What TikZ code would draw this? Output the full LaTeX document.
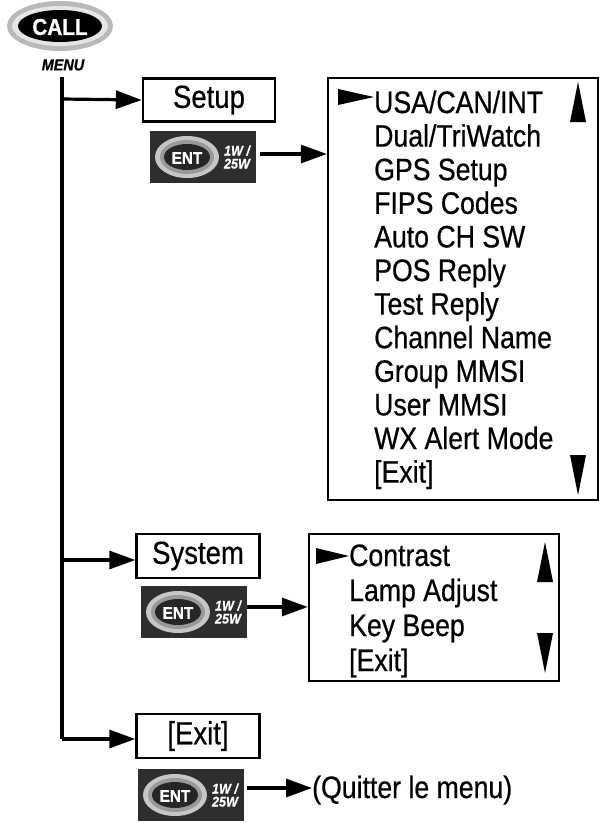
\documentclass[tikz,border=0pt]{standalone}
\usepackage{fontspec}
\setmainfont{Liberation Sans}[FakeStretch=0.86,FakeBold=0.6]
\newfontfamily\btnfont{Liberation Sans}[FakeStretch=0.9,FakeBold=0.8]
\usetikzlibrary{arrows.meta}
\begin{document}
\begin{tikzpicture}[x=1pt,y=-1pt,
  arr/.style={line width=3.2pt,-{Triangle[length=26pt,width=18pt]}},
  box/.style={draw,line width=2.4pt,inner sep=0pt},
  txt/.style={font=\fontsize{31}{31}\selectfont,anchor=base west,inner sep=0pt},
  lbl/.style={font=\fontsize{32}{32}\selectfont,inner sep=0pt},
  tri/.style={fill=black},
  ptr/.style={fill=black}]
\useasboundingbox (0,0) rectangle (601,823);
% CALL button
\fill[gray!55] (60,26) ellipse[x radius=53,y radius=25];
\fill[gray!20] (60,26) ellipse[x radius=48,y radius=20];
\fill[black] (60,26) ellipse[x radius=42,y radius=16];
\node[text=white,font=\btnfont\bfseries\fontsize{23}{23}\selectfont] (call) at (60,27) {CALL};
\node[font=\btnfont\bfseries\itshape\fontsize{16}{16}\selectfont] (menu) at (63,65) {MENU};
\coordinate (top) at (62,77);
\coordinate (bot) at (62,739);
\coordinate (j1) at (62,99);
\coordinate (j2) at (62,560);
\draw[line width=3.2pt] (top) -- (bot);
\tikzset{ent/.pic={
  \fill[black!82] (0,0) rectangle (106,52);
  \fill[gray!45] (37,26) ellipse[x radius=32,y radius=21];
  \fill[gray!80] (37,26) ellipse[x radius=27,y radius=17];
  \fill[black!85] (37,26) ellipse[x radius=23,y radius=13];
  \node[text=white,font=\btnfont\bfseries\fontsize{17}{17}\selectfont] at (37,27) {ENT};
  \node[text=white,font=\btnfont\bfseries\itshape\fontsize{14}{13}\selectfont,align=center] at (87,26) {1W /\\25W};
}}
% Setup
\node[box,minimum width=132,minimum height=43,lbl] (setup) at (209,100) {Setup};
\draw[arr] (j1) -- (setup.west);
\pic at (150,131) {ent};
\coordinate (e1) at (260,154);
\node[box,minimum width=270,minimum height=422] (list1) at (463,289) {};
\draw[arr] (e1) -- (list1.west |- e1);
\fill[ptr] (338,89) -- (374,97) -- (338,105) -- cycle;
\foreach \t [count=\i from 0] in {USA/CAN/INT,Dual/TriWatch,GPS Setup,FIPS Codes,Auto CH SW,POS Reply,Test Reply,Channel Name,Group MMSI,User MMSI,WX Alert Mode,{[Exit]}}
  \node[txt] (l1\i) at (374,113+33.6*\i) {\t};
\fill[tri] (570,122) -- (578,82) -- (586,122) -- cycle;
\fill[tri] (570,455) -- (578,495) -- (586,455) -- cycle;
% System
\node[box,minimum width=123,minimum height=44,lbl] (system) at (198,556) {System};
\draw[arr] (j2) -- (system.west |- j2);
\pic at (141,586) {ent};
\coordinate (e2) at (247,607);
\node[box,minimum width=250,minimum height=147] (list2) at (434,607.5) {};
\draw[arr] (e2) -- (list2.west |- e2);
\fill[ptr] (316,548) -- (349,556) -- (316,564) -- cycle;
\foreach \t [count=\i from 0] in {Contrast,Lamp Adjust,Key Beep,{[Exit]}}
  \node[txt] (l2\i) at (349,566+35*\i) {\t};
\fill[tri] (537,582) -- (545,542) -- (553,582) -- cycle;
\fill[tri] (537,633) -- (545,673) -- (553,633) -- cycle;
% Exit
\node[box,minimum width=123,minimum height=44,lbl] (exit) at (198,736) {[Exit]};
\draw[arr] (bot) -- (exit.west |- bot);
\pic at (138,769) {ent};
\coordinate (e3) at (247,788);
\node[txt,anchor=west] (quit) at (312,790) {(Quitter le menu)};
\draw[arr] (e3) -- (quit.west |- e3);
\end{tikzpicture}
\end{document}
